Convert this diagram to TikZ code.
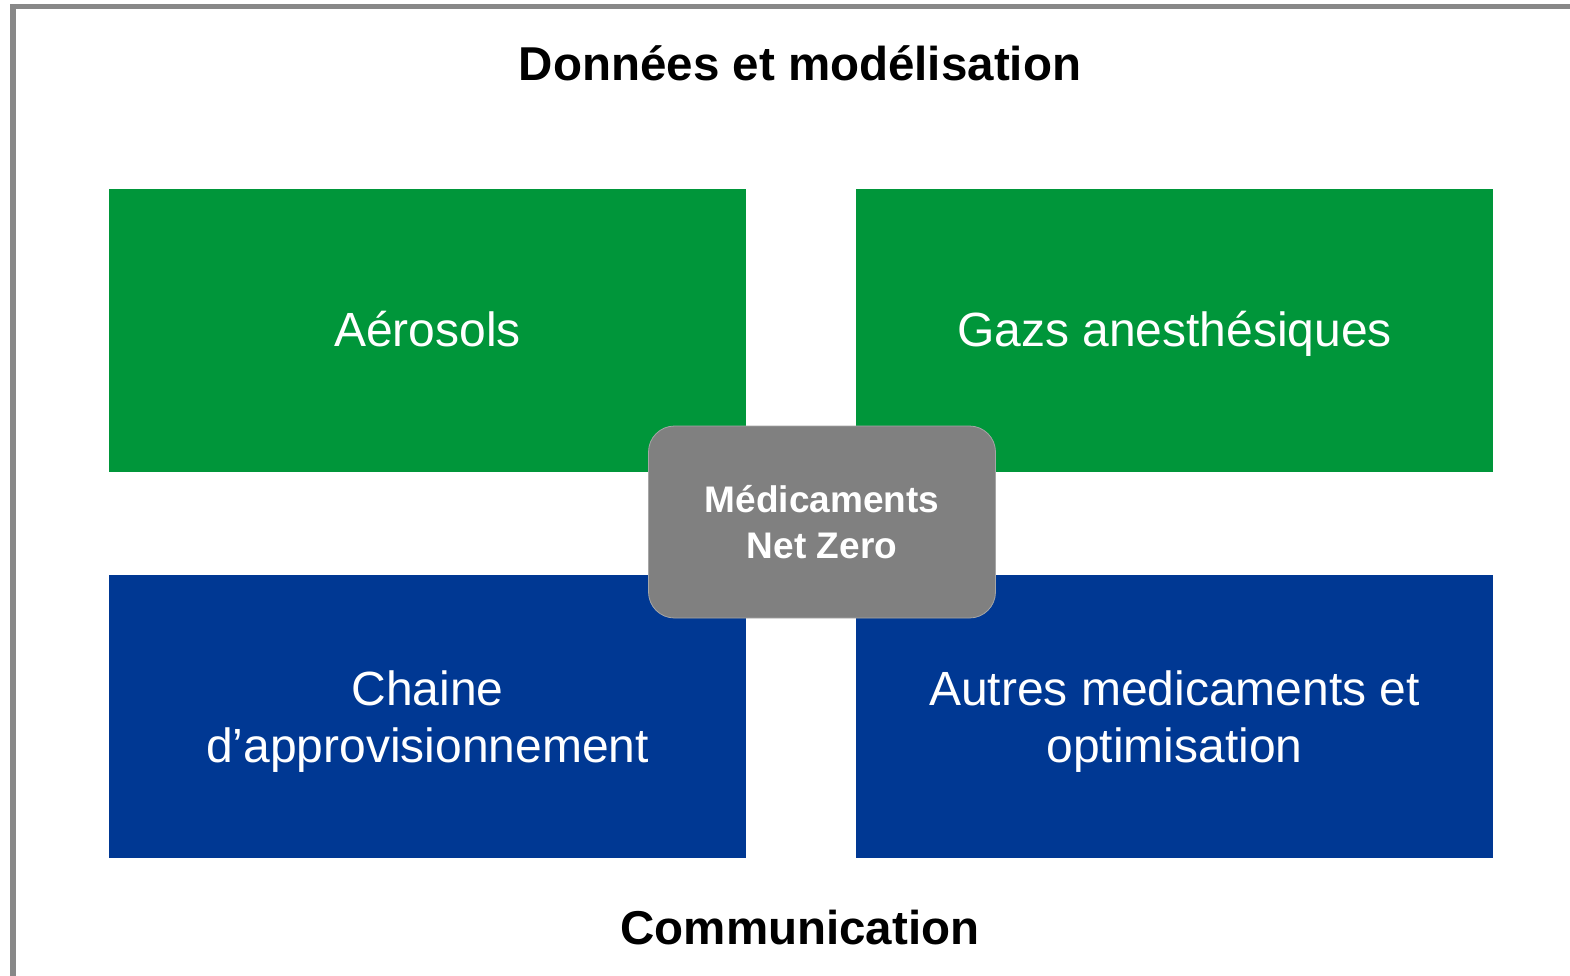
\documentclass[tikz,border=0pt]{standalone}
\usepackage{fontspec}
\setmainfont{Liberation Sans}
\definecolor{boxgreen}{RGB}{0,150,58}
\definecolor{boxblue}{RGB}{0,56,147}
\definecolor{hubgray}{RGB}{128,128,128}
\definecolor{framegray}{RGB}{136,136,136}
\tikzset{
  quad/.style={minimum width=637pt, minimum height=283pt, inner sep=0pt},
  quadtext/.style={anchor=base, inner sep=0pt, align=center, text=white,
     font=\fontsize{48}{57}\selectfont},
  hub/.style={fill=hubgray, draw=hubgray!70!white, line width=0.8pt, rounded corners=26pt,
     minimum width=347pt, minimum height=192pt, inner sep=0pt},
  hubtext/.style={anchor=base, inner sep=0pt, align=center, text=white,
     font=\fontsize{37}{46}\selectfont\bfseries},
  heading/.style={anchor=base, inner sep=0pt, font=\fontsize{47.5}{57}\selectfont\bfseries}
}
\begin{document}
\begin{tikzpicture}[x=1pt,y=-1pt]
\useasboundingbox (0,0) rectangle (1570,975);
\fill[white] (0,0) rectangle (1570,975);
\coordinate (fb) at (13,980);
\coordinate (fc) at (13,6.5);
\coordinate (fr) at (1575,6.5);
\draw[framegray, line width=5.5pt] (fb) -- (fc) -- (fr);
\node[heading] (title) at (800,80) {Données et modélisation};
\node[quad, fill=boxgreen] (aero) at (427.5,330.5) {};
\node[quad, fill=boxgreen] (gaz) at (1174.5,330.5) {};
\node[quad, fill=boxblue] (chaine) at (427.5,716.5) {};
\node[quad, fill=boxblue] (autres) at (1174.5,716.5) {};
\node[quadtext] (aerot) at (427.5,346) {Aérosols};
\node[quadtext] (gazt) at (1174.5,346) {Gazs anesthésiques};
\node[quadtext] (chainet) at (427.5,762) {Chaine\\d’approvisionnement};
\node[quadtext] (autrest) at (1174.5,762) {Autres medicaments et\\optimisation};
\node[hub] (hub) at (822,522) {};
\node[hubtext] (hubt) at (822,558) {Médicaments\\Net Zero};
\node[heading] (comm) at (800,944) {Communication};
\end{tikzpicture}
\end{document}
